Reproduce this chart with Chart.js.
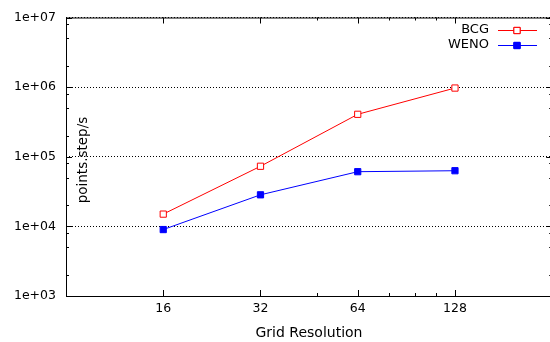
<!DOCTYPE html>
<html>
<head>
<meta charset="utf-8">
<script src="https://cdn.jsdelivr.net/npm/chart.js@4"></script>
<style>html,body{margin:0;padding:0;background:#fff}</style>
</head>
<body>
<canvas id="myChart" width="550" height="342"></canvas>
<script>
// grid sizes and measured throughput (points.step/s)
const grid = [16, 32, 64, 128]
const gridLabels = ['16', '32', '64', '128']
const bcg = [15000, 73000, 407000, 970000]
const weno = [9000, 28400, 61000, 63000]

const yTicks = [1e3, 1e4, 1e5, 1e6, 1e7]
const yTickLabels = ['1e+03', '1e+04', '1e+05', '1e+06', '1e+07']
const yMinor = [2e3, 5e3, 8e3, 2e4, 5e4, 8e4, 2e5, 5e5, 8e5, 2e6, 5e6, 8e6]
const xMinor = [48, 80, 96, 112]
const xEnd = 256   // right border of the frame sits just past the canvas

const FONT = "'DejaVu Sans', sans-serif"

const frame = {
    id: 'frame',
    afterDatasetsDraw(chart) {
        const ctx = chart.ctx
        const a = chart.chartArea
        const xs = chart.scales.x, ys = chart.scales.y
        const right = xs.getPixelForValue(xEnd)
        ctx.save()
        ctx.strokeStyle = '#000'
        ctx.lineWidth = 1
        ctx.strokeRect(a.left + 0.5, a.top + 0.5, right - a.left, a.bottom - a.top)

        ctx.beginPath()
        const tick = (len, v, axis) => {
            if (axis == 'x') {
                const px = Math.round(xs.getPixelForValue(v)) + 0.5
                ctx.moveTo(px, a.bottom); ctx.lineTo(px, a.bottom - len)
                ctx.moveTo(px, a.top); ctx.lineTo(px, a.top + len)
            } else {
                const py = Math.round(ys.getPixelForValue(v)) + 0.5
                ctx.moveTo(a.left, py); ctx.lineTo(a.left + len, py)
                ctx.moveTo(right, py); ctx.lineTo(right - len, py)
            }
        }
        grid.forEach(v => tick(6, v, 'x'))
        xMinor.forEach(v => tick(3, v, 'x'))
        yTicks.forEach(v => tick(6, v, 'y'))
        yMinor.forEach(v => tick(3, v, 'y'))
        ctx.stroke()

        // axis titles
        ctx.fillStyle = '#000'
        ctx.textAlign = 'center'
        ctx.textBaseline = 'middle'
        ctx.font = '14px ' + FONT
        ctx.fillText('Grid Resolution', 309, 333)
        ctx.save()
        ctx.translate(83, 160)
        ctx.rotate(-Math.PI / 2)
        ctx.font = '13.5px ' + FONT
        ctx.fillText('points.step/s', 0, 0)
        ctx.restore()

        // key
        ctx.font = '13px ' + FONT
        ctx.textAlign = 'right'
        chart.data.datasets.forEach((ds, i) => {
            const y = 30 + i * 14.5
            ctx.fillStyle = '#000'
            ctx.fillText(ds.label, 489, y)
            ctx.strokeStyle = ds.borderColor
            ctx.beginPath()
            ctx.moveTo(498, Math.round(y) + 0.5)
            ctx.lineTo(537, Math.round(y) + 0.5)
            ctx.stroke()
            Chart.helpers.drawPoint(ctx, {
                pointStyle: 'rect', radius: 4.4, borderWidth: 1
            }, 517, Math.round(y) + 0.5)
            ctx.fillStyle = ds.pointBackgroundColor
            ctx.fill()
            ctx.stroke()
        })
        ctx.restore()
    }
}

function chart() {
    const ctx = document.getElementById('myChart')
    const myChart = new Chart(ctx, {
        type: 'line',
        data: {
            datasets: [{
                label: 'BCG',
                data: grid.map((g, i) => ({ x: g, y: bcg[i] })),
                borderColor: '#ff0000',
                borderWidth: 1,
                pointStyle: 'rect',
                pointRadius: 4.4,
                pointBorderWidth: 1,
                pointBorderColor: '#ff0000',
                pointBackgroundColor: '#ffffff'
            }, {
                label: 'WENO',
                data: grid.map((g, i) => ({ x: g, y: weno[i] })),
                borderColor: '#0000ff',
                borderWidth: 1,
                pointStyle: 'rect',
                pointRadius: 4.4,
                pointBorderWidth: 1,
                pointBorderColor: '#0000ff',
                pointBackgroundColor: '#0000ff'
            }]
        },
        options: {
            responsive: false,
            animation: false,
            layout: { autoPadding: false, padding: { top: 14.5, right: 0, left: 0, bottom: 0 } },
            plugins: { legend: { display: false }, tooltip: { enabled: false } },
            scales: {
                x: {
                    type: 'logarithmic',
                    min: 8,
                    max: 252,
                    afterBuildTicks: s => { s.ticks = grid.map(v => ({ value: v })) },
                    afterFit: s => { s.height = 46 },
                    grid: { display: false, drawTicks: false },
                    border: { display: false },
                    ticks: {
                        autoSkip: false,
                        maxRotation: 0,
                        padding: 5,
                        color: '#000',
                        font: { family: FONT, size: 12.5 },
                        callback: v => gridLabels[grid.indexOf(v)]
                    }
                },
                y: {
                    type: 'logarithmic',
                    min: 1e3,
                    max: 1e7,
                    afterBuildTicks: s => { s.ticks = yTicks.map(v => ({ value: v })) },
                    afterFit: s => { s.width = 66 },
                    grid: { color: '#000', lineWidth: 1, drawTicks: false },
                    border: { display: false, dash: [1, 2] },
                    ticks: {
                        autoSkip: false,
                        padding: 10,
                        color: '#000',
                        font: { family: FONT, size: 12.5 },
                        callback: v => yTickLabels[yTicks.indexOf(v)]
                    }
                }
            }
        },
        plugins: [frame]
    })
}
chart()
</script>
</body>
</html>
